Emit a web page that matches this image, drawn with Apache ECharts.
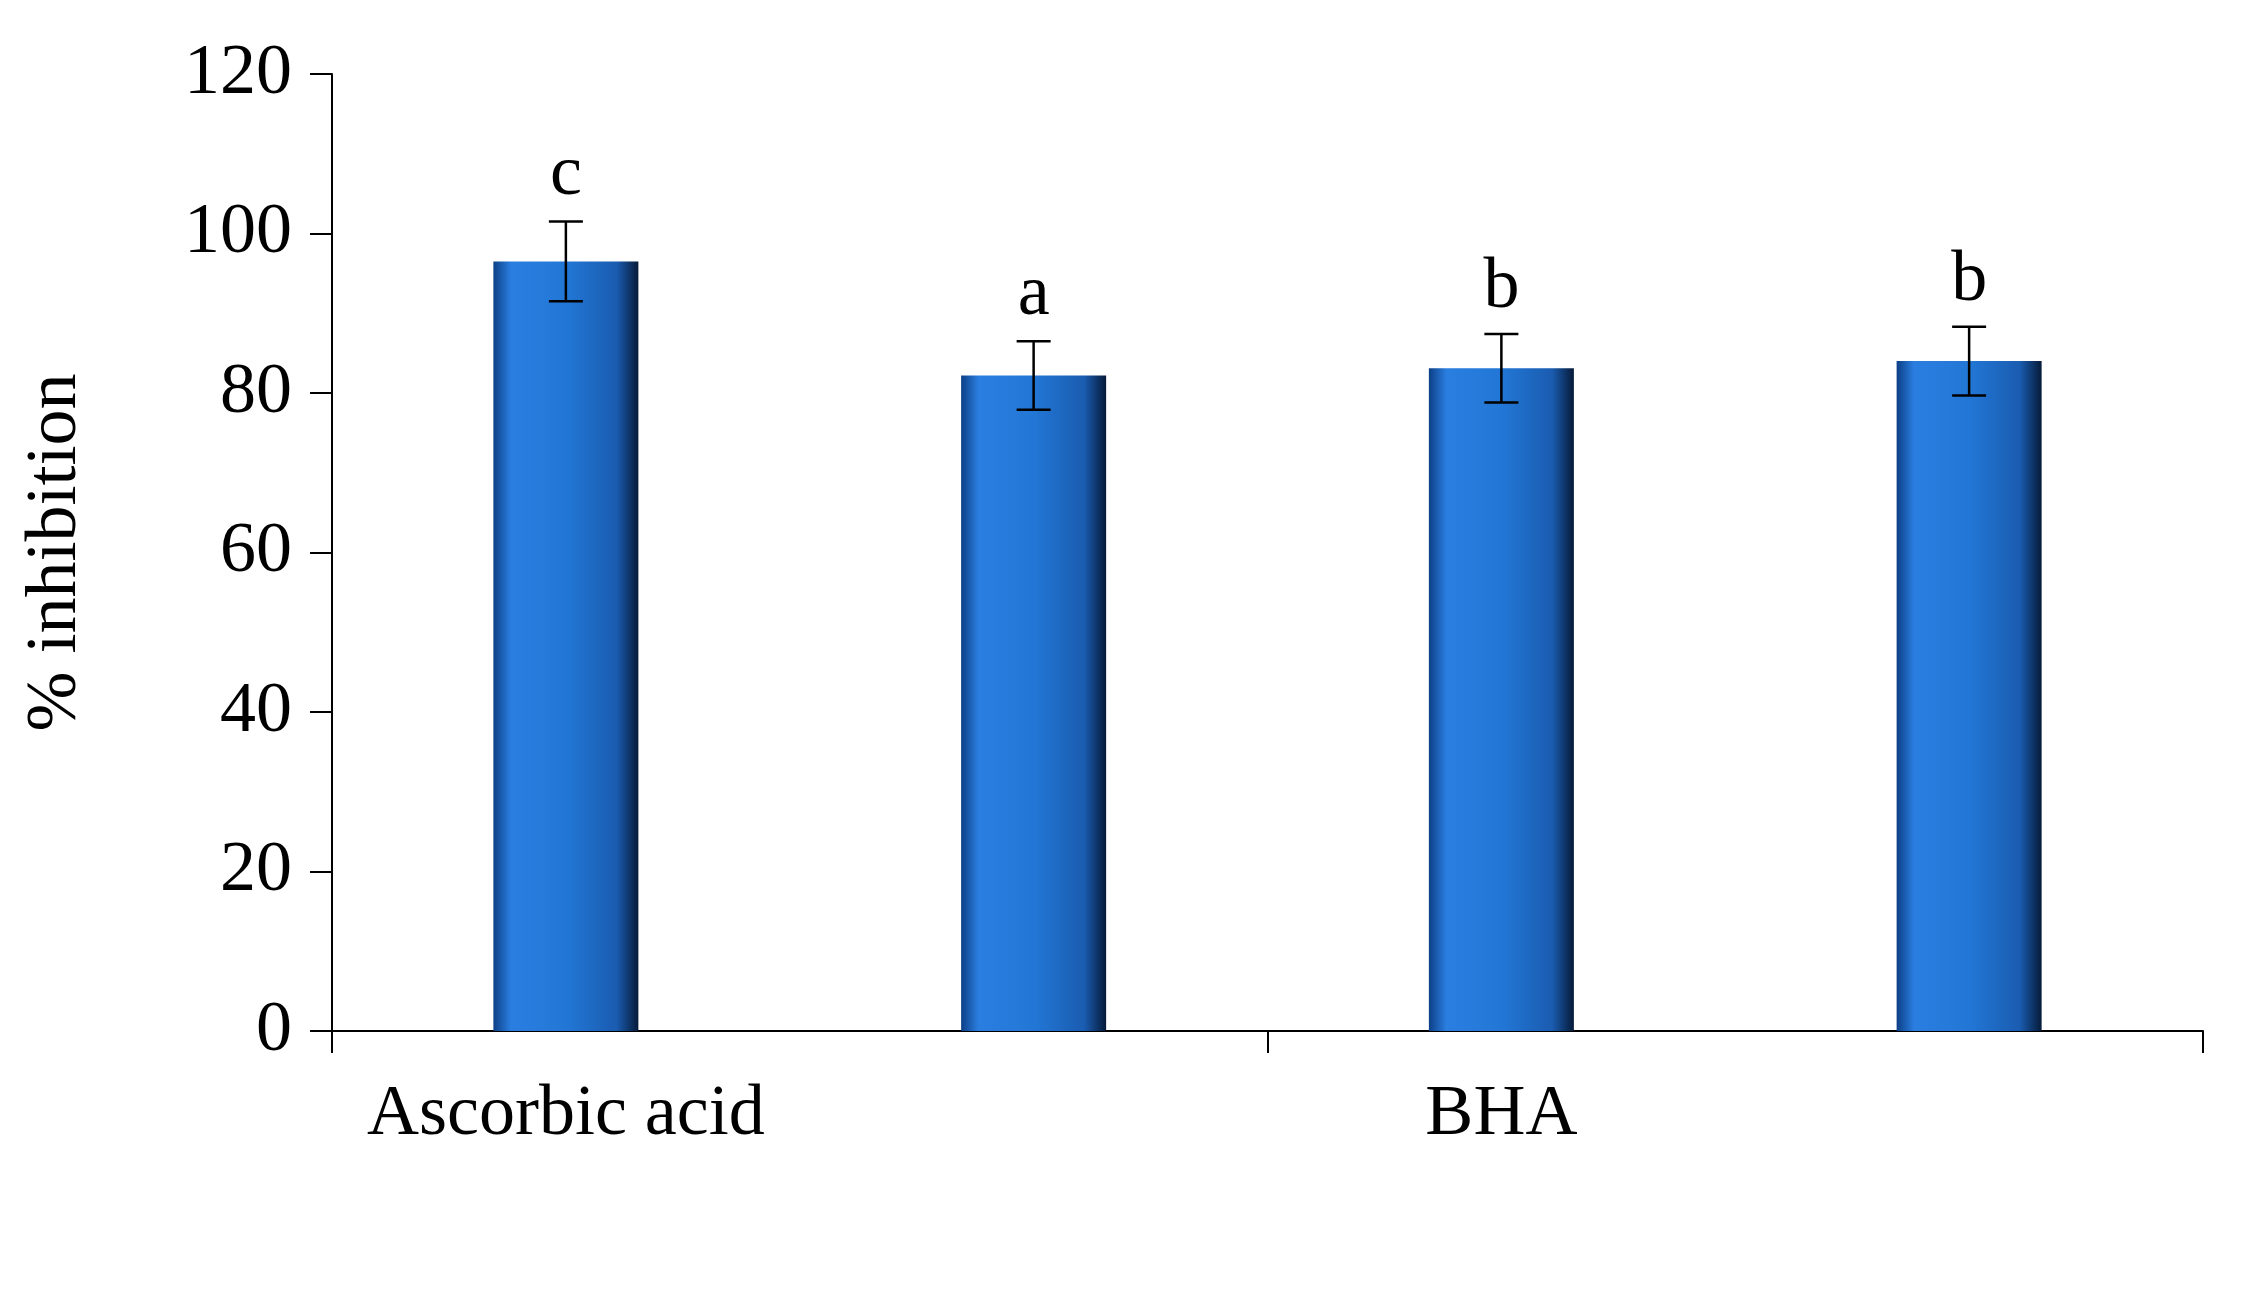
<!DOCTYPE html><html><head><meta charset="utf-8"><script src="https://cdn.jsdelivr.net/npm/echarts@6/dist/echarts.min.js"></script>
<style>html,body{margin:0;background:#fff}#c{width:2260px;height:1312px}</style></head><body><div id="c"></div><script>
const categories=['Ascorbic acid','Woodfordia\nfruticosa','BHA','BHT'];
const values=[96.5,82.2,83.1,84.0];
const errors=[5.0,4.3,4.3,4.3];
const letters=['c','a','b','b'];
const yTicks=[0,20,40,60,80,100,120];
const F='"Liberation Serif","DejaVu Serif",serif';
const chart=echarts.init(document.getElementById('c'));
const grad=new echarts.graphic.LinearGradient(0,0,1,0,[
 {offset:0,color:'#0d3f86'},{offset:0.12,color:'#2a7ee0'},{offset:0.5,color:'#2277d6'},
 {offset:0.85,color:'#1a5cb0'},{offset:1,color:'#061a38'}]);
chart.setOption({
 animation:false,
 grid:{left:332,right:57,top:74,bottom:281},
 xAxis:{type:'category',data:categories,
  axisLine:{lineStyle:{color:'#000',width:2}},
  axisTick:{show:true,length:22,lineStyle:{color:'#000',width:2}},
  axisLabel:{color:'#000',fontFamily:F,fontSize:72,margin:38,lineHeight:92}},
 yAxis:{type:'value',min:yTicks[0],max:yTicks[yTicks.length-1],interval:20,
  name:'% inhibition',nameLocation:'middle',nameGap:240,nameRotate:90,
  nameTextStyle:{color:'#000',fontFamily:F,fontSize:72},
  axisLine:{show:true,lineStyle:{color:'#000',width:2}},
  axisTick:{show:true,length:22,lineStyle:{color:'#000',width:2}},
  splitLine:{show:false},
  axisLabel:{color:'#000',fontFamily:F,fontSize:72,margin:40}},
 series:[
  {type:'bar',data:values,barWidth:'31%',itemStyle:{color:grad}},
  {type:'custom',data:values.map((v,i)=>[i,v,errors[i]]),z:5,
   renderItem:(p,api)=>{
    const x=api.coord([api.value(0),0])[0];
    const hi=api.coord([api.value(0),api.value(1)+api.value(2)])[1];
    const lo=api.coord([api.value(0),api.value(1)-api.value(2)])[1];
    const w=17,s={stroke:'#000',lineWidth:2.5};
    return {type:'group',children:[
     {type:'line',shape:{x1:x,y1:hi,x2:x,y2:lo},style:s},
     {type:'line',shape:{x1:x-w,y1:hi,x2:x+w,y2:hi},style:s},
     {type:'line',shape:{x1:x-w,y1:lo,x2:x+w,y2:lo},style:s},
     {type:'text',x:x,y:hi-10,style:{text:letters[p.dataIndex],fill:'#000',font:'72px '+F,align:'center',verticalAlign:'bottom'}}
    ]};
   }}
 ]
});
</script></body></html>
